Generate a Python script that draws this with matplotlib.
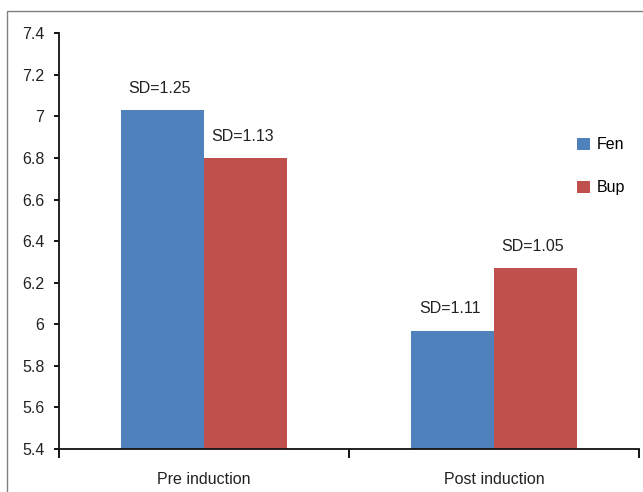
import matplotlib.pyplot as plt
from matplotlib.patches import Rectangle
import numpy as np

plt.rcParams['font.family'] = ['Liberation Sans', 'DejaVu Sans']

categories = ['Pre induction', 'Post induction']
fen = [7.03, 5.97]
bup = [6.80, 6.27]
fen_sd = ['SD=1.25', 'SD=1.11']
bup_sd = ['SD=1.13', 'SD=1.05']

fig = plt.figure(figsize=(6.43, 4.92), dpi=100)
ax = fig.add_axes([59 / 643, 43 / 492, 580 / 643, 415.7 / 492])

x = np.arange(len(categories))
w = 0.285
b1 = ax.bar(x - w / 2, np.array(fen) - 5.4, w, bottom=5.4, color='#4F81BD', label='Fen')
b2 = ax.bar(x + w / 2, np.array(bup) - 5.4, w, bottom=5.4, color='#C0504D', label='Bup')

# SD labels above the bars
for bars, vals, sds in [(b1, fen, fen_sd), (b2, bup, bup_sd)]:
    for rect, v, s in zip(bars, vals, sds):
        ax.annotate(s, (rect.get_x() + rect.get_width() / 2, v),
                    xytext=(-2, 15.5), textcoords='offset points',
                    ha='center', va='center', fontsize=11.5, color='#222222')

ax.set_xlim(-0.5, 1.5)
ax.set_ylim(5.4, 7.4)
ax.set_yticks(np.arange(5.4, 7.41, 0.2))
ax.set_yticklabels(['5.4', '5.6', '5.8', '6', '6.2', '6.4', '6.6', '6.8', '7', '7.2', '7.4'])
ax.set_xticks([-0.5, 0.5, 1.5], minor=False)
ax.set_xticklabels(['', '', ''])
ax.set_xticks([0, 1], minor=True)
ax.set_xticklabels(categories, minor=True)
ax.tick_params(axis='x', which='major', direction='out', length=6.5, width=1.3)
ax.tick_params(axis='x', which='minor', length=0, pad=16.5, labelsize=11.5, labelcolor='#222222')
ax.tick_params(axis='y', direction='out', length=3.6, width=1.3, pad=7, labelsize=11.5, labelcolor='#222222')

for side in ['top', 'right']:
    ax.spines[side].set_visible(False)
for side in ['left', 'bottom']:
    ax.spines[side].set_linewidth(1.3)
    ax.spines[side].set_color('#111111')

ax.legend(loc='upper left', bbox_to_anchor=(563 / 643, 1 - 123 / 492),
          bbox_transform=fig.transFigure, frameon=False, fontsize=11.5,
          handlelength=0.8, handleheight=0.8, handletextpad=0.4, labelspacing=1.75)

# outer frame (cut off at right and bottom)
fig.add_artist(Rectangle((7.3 / 643, -0.1), 1.2, 1 - 10.7 / 492 + 0.1,
                         transform=fig.transFigure, fill=False,
                         edgecolor='#808080', linewidth=1.0))

fig.savefig('out.png', dpi=100)
